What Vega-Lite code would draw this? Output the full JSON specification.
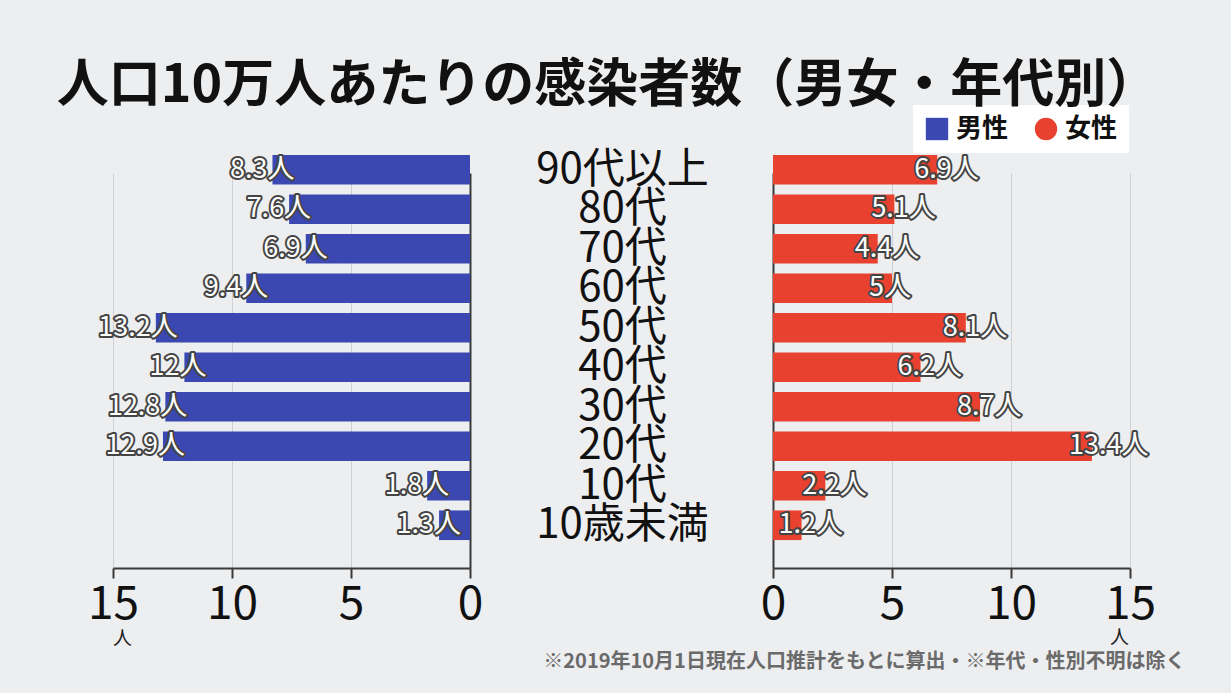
{
  "$schema": "https://vega.github.io/schema/vega-lite/v6.json",
  "autosize": {"type": "none"},
  "width": 1231,
  "height": 418,
  "padding": {"left": 0, "top": 150, "right": 0, "bottom": 125},
  "background": "#edeef0",
  "title": {
    "text": "人口10万人あたりの感染者数（男女・年代別）",
    "anchor": "middle",
    "frame": "group",
    "offset": -8,
    "dx": -8,
    "fontSize": 52,
    "font": "Noto Sans CJK JP",
    "fontWeight": "bold",
    "color": "#111111"
  },
  "config": {
    "view": {"stroke": null},
    "font": "Noto Sans CJK JP"
  },
  "data": {
    "values": [
      {"age": "90代以上", "sex": "男性", "value": 8.3, "label": "8.3人"},
      {"age": "80代", "sex": "男性", "value": 7.6, "label": "7.6人"},
      {"age": "70代", "sex": "男性", "value": 6.9, "label": "6.9人"},
      {"age": "60代", "sex": "男性", "value": 9.4, "label": "9.4人"},
      {"age": "50代", "sex": "男性", "value": 13.2, "label": "13.2人"},
      {"age": "40代", "sex": "男性", "value": 12, "label": "12人"},
      {"age": "30代", "sex": "男性", "value": 12.8, "label": "12.8人"},
      {"age": "20代", "sex": "男性", "value": 12.9, "label": "12.9人"},
      {"age": "10代", "sex": "男性", "value": 1.8, "label": "1.8人"},
      {"age": "10歳未満", "sex": "男性", "value": 1.3, "label": "1.3人"},
      {"age": "90代以上", "sex": "女性", "value": 6.9, "label": "6.9人"},
      {"age": "80代", "sex": "女性", "value": 5.1, "label": "5.1人"},
      {"age": "70代", "sex": "女性", "value": 4.4, "label": "4.4人"},
      {"age": "60代", "sex": "女性", "value": 5, "label": "5人"},
      {"age": "50代", "sex": "女性", "value": 8.1, "label": "8.1人"},
      {"age": "40代", "sex": "女性", "value": 6.2, "label": "6.2人"},
      {"age": "30代", "sex": "女性", "value": 8.7, "label": "8.7人"},
      {"age": "20代", "sex": "女性", "value": 13.4, "label": "13.4人"},
      {"age": "10代", "sex": "女性", "value": 2.2, "label": "2.2人"},
      {"age": "10歳未満", "sex": "女性", "value": 1.2, "label": "1.2人"}
    ]
  },
  "encoding": {
    "y": {
      "field": "age",
      "type": "nominal",
      "sort": ["90代以上", "80代", "70代", "60代", "50代", "40代", "30代", "20代", "10代", "10歳未満"],
      "scale": {"range": [0, 395], "paddingInner": 0.25, "paddingOuter": 0.125},
      "axis": {
        "orient": "left",
        "offset": -622,
        "domain": false,
        "ticks": false,
        "grid": false,
        "labelAlign": "center",
        "labelBaseline": "middle",
        "labelPadding": 0,
        "labelFontSize": 42,
        "labelColor": "#111111",
        "labelLimit": 400,
        "labelOverlap": false,
        "title": "※2019年10月1日現在人口推計をもとに算出・※年代・性別不明は除く",
        "titleAngle": 0,
        "titleX": 563,
        "titleY": 511,
        "titleAlign": "right",
        "titleBaseline": "middle",
        "titleFontSize": 20,
        "titleFontWeight": "bold",
        "titleColor": "#6a6a6a"
      }
    }
  },
  "resolve": {"scale": {"x": "independent"}, "axis": {"x": "independent"}},
  "layer": [
    {
      "transform": [{"filter": "datum.sex === '男性'"}],
      "encoding": {
        "x": {
          "field": "value",
          "type": "quantitative",
          "scale": {"domain": [0, 15], "range": [470, 113], "nice": false, "zero": true},
          "axis": {
            "orient": "bottom",
            "values": [0, 5, 10, 15],
            "grid": true,
            "gridColor": {"condition": {"test": "datum.value === 0", "value": "#3a3a3a"}, "value": "#cfd0d3"},
            "gridWidth": {"condition": {"test": "datum.value === 0", "value": 2}, "value": 1},
            "domainColor": "#3a3a3a",
            "domainWidth": 2,
            "tickColor": "#3a3a3a",
            "tickWidth": 2,
            "tickSize": 10,
            "labelFontSize": 46,
            "labelColor": "#111111",
            "labelPadding": 4,
            "labelFlush": false,
            "labelOverlap": false,
            "title": "人",
            "titleX": 122,
            "titleY": 70,
            "titleFontSize": 19,
            "titleFontWeight": "normal",
            "titleBaseline": "middle",
            "titleAlign": "center",
            "titleColor": "#222222"
          }
        }
      },
      "layer": [
        {
          "mark": {"type": "bar"},
          "encoding": {
            "color": {
              "field": "sex",
              "type": "nominal",
              "scale": {"domain": ["男性", "女性"], "range": ["#3b48b2", "#e8412f"]},
              "legend": {
                "orient": "none",
                "legendX": 913,
                "legendY": -45,
                "direction": "horizontal",
                "title": null,
                "fillColor": "white",
                "padding": 11,
                "columnPadding": 24,
                "labelOffset": 6,
                "labelFontSize": 26,
                "labelFontWeight": "bold",
                "labelColor": "#111111",
                "symbolSize": 500,
                "symbolType": "square",
                "symbolStrokeWidth": 0,
                "symbolOpacity": 1,
                "encode": {
                  "symbols": {
                    "update": {
                      "shape": {"signal": "datum.value === '男性' ? 'square' : 'circle'"}
                    }
                  }
                }
              }
            }
          }
        },
        {
          "mark": {"type": "text", "align": "right", "baseline": "middle", "dx": 22, "fontSize": 27, "fill": "#444444", "stroke": "#444444", "strokeWidth": 4, "strokeJoin": "round"},
          "encoding": {"text": {"field": "label", "type": "nominal"}}
        },
        {
          "mark": {"type": "text", "align": "right", "baseline": "middle", "dx": 22, "fontSize": 27, "fill": "white"},
          "encoding": {"text": {"field": "label", "type": "nominal"}}
        }
      ]
    },
    {
      "transform": [{"filter": "datum.sex === '女性'"}],
      "encoding": {
        "x": {
          "field": "value",
          "type": "quantitative",
          "scale": {"domain": [0, 15], "range": [773, 1130], "nice": false, "zero": true},
          "axis": {
            "orient": "bottom",
            "values": [0, 5, 10, 15],
            "grid": true,
            "gridColor": {"condition": {"test": "datum.value === 0", "value": "#3a3a3a"}, "value": "#cfd0d3"},
            "gridWidth": {"condition": {"test": "datum.value === 0", "value": 2}, "value": 1},
            "domainColor": "#3a3a3a",
            "domainWidth": 2,
            "tickColor": "#3a3a3a",
            "tickWidth": 2,
            "tickSize": 10,
            "labelFontSize": 46,
            "labelColor": "#111111",
            "labelPadding": 4,
            "labelFlush": false,
            "labelOverlap": false,
            "title": "人",
            "titleX": 1119,
            "titleY": 69,
            "titleFontSize": 19,
            "titleFontWeight": "normal",
            "titleBaseline": "middle",
            "titleAlign": "center",
            "titleColor": "#222222"
          }
        }
      },
      "layer": [
        {
          "mark": {"type": "bar"},
          "encoding": {
            "color": {"field": "sex", "type": "nominal"}
          }
        },
        {
          "mark": {"type": "text", "align": "left", "baseline": "middle", "dx": -23, "fontSize": 27, "fill": "#444444", "stroke": "#444444", "strokeWidth": 4, "strokeJoin": "round"},
          "encoding": {"text": {"field": "label", "type": "nominal"}}
        },
        {
          "mark": {"type": "text", "align": "left", "baseline": "middle", "dx": -23, "fontSize": 27, "fill": "white"},
          "encoding": {"text": {"field": "label", "type": "nominal"}}
        }
      ]
    }
  ]
}
